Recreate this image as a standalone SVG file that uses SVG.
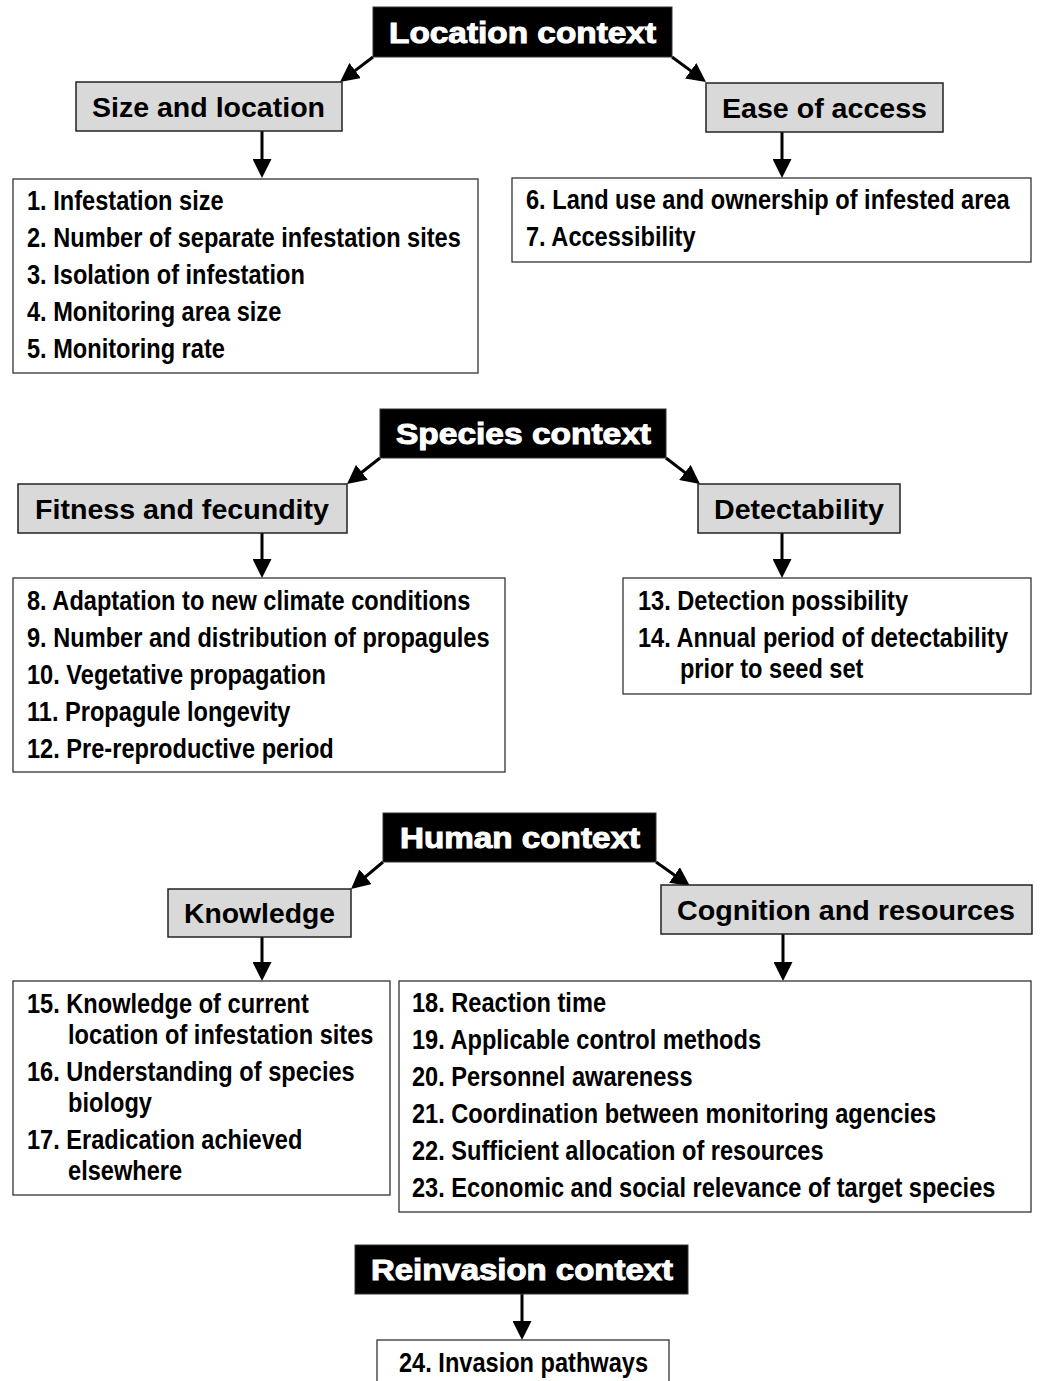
<svg xmlns="http://www.w3.org/2000/svg" width="1040" height="1381" viewBox="0 0 1040 1381">
<style>
  .ctx { fill: #000; stroke: #333; stroke-width: 1; }
  .ctxt { fill: #fff; font-family: "Liberation Sans", Arial, sans-serif; font-weight: bold; font-size: 29px; stroke: #fff; stroke-width: 1; }
  .sub { fill: #d9d9d9; stroke: #222; stroke-width: 1.5; }
  .subt { fill: #000; font-family: "Liberation Sans", Arial, sans-serif; font-weight: bold; font-size: 28.5px; }
  .box { fill: #fff; stroke: #333; stroke-width: 1.3; }
  .bt { fill: #000; font-family: "Liberation Sans Narrow", "Liberation Sans", Arial, sans-serif; font-weight: bold; font-size: 27px; }
  .conn line { stroke: #000; stroke-width: 3; marker-end: url(#ah); }
</style>
<defs>
  <marker id="ah" markerUnits="userSpaceOnUse" markerWidth="19" markerHeight="19" refX="15" refY="9.5" orient="auto">
    <path d="M0,0 L19,9.5 L0,19 z" fill="#000"/>
  </marker>
</defs>
<rect width="1040" height="1381" fill="#fff"/>

<g id="connectors" class="conn">
  <line x1="373" y1="57" x2="343.2" y2="79.6"/>
  <line x1="672" y1="57" x2="702.8" y2="79.6"/>
  <line x1="262" y1="131" x2="262" y2="174"/>
  <line x1="782" y1="132" x2="782" y2="174"/>
  <line x1="380" y1="458" x2="350.1" y2="481.5"/>
  <line x1="666" y1="458" x2="696.8" y2="481.6"/>
  <line x1="262" y1="533" x2="262" y2="574"/>
  <line x1="782" y1="533" x2="782" y2="574"/>
  <line x1="383" y1="862" x2="354.1" y2="886.4"/>
  <line x1="656" y1="862" x2="686.7" y2="883.7"/>
  <line x1="262" y1="937" x2="262" y2="977"/>
  <line x1="783" y1="934" x2="783" y2="977"/>
  <line x1="522" y1="1294" x2="522" y2="1336"/>
</g>

<g id="location-context">
  <rect class="ctx" x="373" y="7" width="299" height="50"/>
  <text class="ctxt" x="389" y="42.5" textLength="267" lengthAdjust="spacingAndGlyphs">Location context</text>
</g>
<g id="size-and-location">
  <rect class="sub" x="76" y="82" width="266" height="49"/>
  <text class="subt" x="92" y="117" textLength="233" lengthAdjust="spacingAndGlyphs">Size and location</text>
</g>
<g id="ease-of-access">
  <rect class="sub" x="706" y="83" width="237" height="49"/>
  <text class="subt" x="722" y="118" textLength="205" lengthAdjust="spacingAndGlyphs">Ease of access</text>
</g>
<g id="items-1-5">
  <rect class="box" x="13" y="179" width="465" height="194"/>
  <g transform="translate(27,0) scale(0.874,1)">
    <text class="bt" x="0" y="210">1. Infestation size</text>
    <text class="bt" x="0" y="247">2. Number of separate infestation sites</text>
    <text class="bt" x="0" y="284">3. Isolation of infestation</text>
    <text class="bt" x="0" y="321">4. Monitoring area size</text>
    <text class="bt" x="0" y="358">5. Monitoring rate</text>
  </g>
</g>
<g id="items-6-7">
  <rect class="box" x="512" y="178" width="519" height="84"/>
  <g transform="translate(526,0) scale(0.874,1)">
    <text class="bt" x="0" y="209">6. Land use and ownership of infested area</text>
    <text class="bt" x="0" y="246">7. Accessibility</text>
  </g>
</g>

<g id="species-context">
  <rect class="ctx" x="380" y="409" width="286" height="49"/>
  <text class="ctxt" x="396" y="444" textLength="255" lengthAdjust="spacingAndGlyphs">Species context</text>
</g>
<g id="fitness-and-fecundity">
  <rect class="sub" x="18" y="484" width="329" height="49"/>
  <text class="subt" x="35" y="519" textLength="294" lengthAdjust="spacingAndGlyphs">Fitness and fecundity</text>
</g>
<g id="detectability">
  <rect class="sub" x="698" y="484" width="202" height="49"/>
  <text class="subt" x="714" y="519" textLength="170" lengthAdjust="spacingAndGlyphs">Detectability</text>
</g>
<g id="items-8-12">
  <rect class="box" x="13" y="578" width="492" height="194"/>
  <g transform="translate(27,0) scale(0.874,1)">
    <text class="bt" x="0" y="610">8. Adaptation to new climate conditions</text>
    <text class="bt" x="0" y="647">9. Number and distribution of propagules</text>
    <text class="bt" x="0" y="684">10. Vegetative propagation</text>
    <text class="bt" x="0" y="721">11. Propagule longevity</text>
    <text class="bt" x="0" y="758">12. Pre-reproductive period</text>
  </g>
</g>
<g id="items-13-14">
  <rect class="box" x="623" y="578" width="408" height="116"/>
  <g transform="translate(638,0) scale(0.874,1)">
    <text class="bt" x="0" y="610">13. Detection possibility</text>
    <text class="bt" x="0" y="647">14. Annual period of detectability</text>
    <text class="bt" x="48" y="678">prior to seed set</text>
  </g>
</g>

<g id="human-context">
  <rect class="ctx" x="383" y="813" width="273" height="49"/>
  <text class="ctxt" x="400" y="848" textLength="240" lengthAdjust="spacingAndGlyphs">Human context</text>
</g>
<g id="knowledge">
  <rect class="sub" x="168" y="889" width="183" height="48"/>
  <text class="subt" x="184" y="923" textLength="151" lengthAdjust="spacingAndGlyphs">Knowledge</text>
</g>
<g id="cognition-and-resources">
  <rect class="sub" x="661" y="885" width="371" height="49"/>
  <text class="subt" x="677" y="920" textLength="338" lengthAdjust="spacingAndGlyphs">Cognition and resources</text>
</g>
<g id="items-15-17">
  <rect class="box" x="13" y="981" width="377" height="214"/>
  <g transform="translate(27,0) scale(0.874,1)">
    <text class="bt" x="0" y="1013">15. Knowledge of current</text>
    <text class="bt" x="47" y="1044">location of infestation sites</text>
    <text class="bt" x="0" y="1081">16. Understanding of species</text>
    <text class="bt" x="47" y="1112">biology</text>
    <text class="bt" x="0" y="1149">17. Eradication achieved</text>
    <text class="bt" x="47" y="1180">elsewhere</text>
  </g>
</g>
<g id="items-18-23">
  <rect class="box" x="399" y="981" width="632" height="231"/>
  <g transform="translate(412,0) scale(0.874,1)">
    <text class="bt" x="0" y="1012">18. Reaction time</text>
    <text class="bt" x="0" y="1049">19. Applicable control methods</text>
    <text class="bt" x="0" y="1086">20. Personnel awareness</text>
    <text class="bt" x="0" y="1123">21. Coordination between monitoring agencies</text>
    <text class="bt" x="0" y="1160">22. Sufficient allocation of resources</text>
    <text class="bt" x="0" y="1197">23. Economic and social relevance of target species</text>
  </g>
</g>

<g id="reinvasion-context">
  <rect class="ctx" x="355" y="1245" width="333" height="49"/>
  <text class="ctxt" x="371" y="1280" textLength="302" lengthAdjust="spacingAndGlyphs">Reinvasion context</text>
</g>
<g id="item-24">
  <rect class="box" x="377" y="1340" width="292" height="60"/>
  <g transform="translate(399,0) scale(0.874,1)">
    <text class="bt" x="0" y="1372">24. Invasion pathways</text>
  </g>
</g>
</svg>
